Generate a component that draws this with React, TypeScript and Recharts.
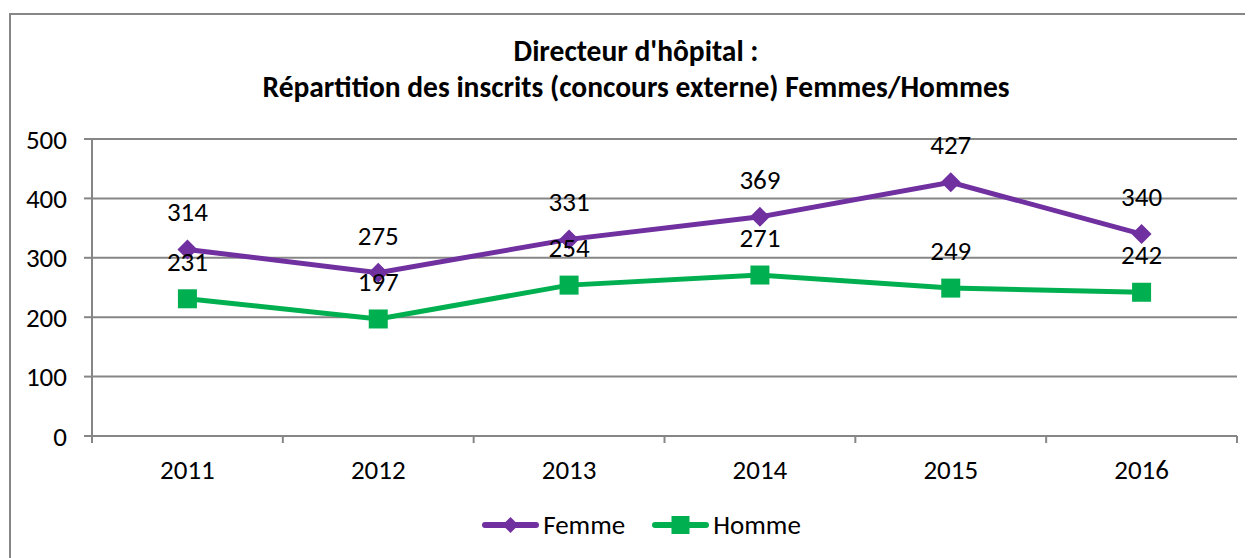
import { LineChart, Line, XAxis, YAxis, CartesianGrid, Legend, LabelList } from 'recharts';

const years = ['2011', '2012', '2013', '2014', '2015', '2016'];
const femme = [314, 275, 331, 369, 427, 340];
const homme = [231, 197, 254, 271, 249, 242];
const yTicks = [0, 100, 200, 300, 400, 500];

const data = years.map((year, i) => ({ year, femme: femme[i], homme: homme[i] }));

const FONT = 'Carlito, Calibri, Lato, sans-serif';
const AXIS = '#868686';
const PURPLE = '#7030A0';
const GREEN = '#00B050';

const W = 1245;
const H = 550;
const M = { top: 131, right: 16, left: 0, bottom: 13 };
const Y_W = 84;
const HALF_BAND = (W - M.left - M.right - Y_W) / years.length / 2;
const FS = 27;

// category axis: tick marks on band edges, label in the middle
const YearTick = ({ x, y, payload, index }: any) => (
  <g>
    <line x1={x - HALF_BAND} x2={x - HALF_BAND} y1={y} y2={y + 7} stroke={AXIS} strokeWidth={2} />
    {index === years.length - 1 && (
      <line x1={x + HALF_BAND} x2={x + HALF_BAND} y1={y} y2={y + 7} stroke={AXIS} strokeWidth={2} />
    )}
    <text x={x} y={y + 43} textAnchor="middle" fill="#000" fontSize={FS} fontFamily={FONT}>
      {payload.value}
    </text>
  </g>
);

const Diamond = ({ cx, cy }: any) => (
  <path d={`M${cx},${cy - 10} L${cx + 10},${cy} L${cx},${cy + 10} L${cx - 10},${cy} Z`} fill={PURPLE} />
);

const Square = ({ cx, cy }: any) => (
  <rect x={cx - 9.5} y={cy - 9.5} width={19} height={19} fill={GREEN} />
);

const LegendContent = () => (
  <div style={{ display: 'flex', justifyContent: 'center', alignItems: 'center', gap: 27, fontFamily: FONT, fontSize: FS, paddingLeft: 38, paddingTop: 3 }}>
    {[
      { name: 'Femme', color: PURPLE, shape: 'diamond' },
      { name: 'Homme', color: GREEN, shape: 'square' },
    ].map((item) => (
      <div key={item.name} style={{ display: 'flex', alignItems: 'center', gap: 4 }}>
        <svg width={57} height={20}>
          <line x1={3} x2={54} y1={10} y2={10} stroke={item.color} strokeWidth={6} strokeLinecap="round" />
          {item.shape === 'diamond' ? (
            <path d="M28.5,2 L36.5,10 L28.5,18 L20.5,10 Z" fill={item.color} />
          ) : (
            <rect x={19.5} y={1} width={18} height={18} fill={item.color} />
          )}
        </svg>
        <span>{item.name}</span>
      </div>
    ))}
  </div>
);

export default function App() {
  return (
    <div style={{ width: W, height: H, overflow: 'hidden', position: 'relative', background: '#fff' }}>
      <div
        style={{
          position: 'absolute', left: 1, top: 5, width: 1300, height: 700,
          border: `2px solid ${AXIS}`, boxSizing: 'border-box',
        }}
      />
      <div
        style={{
          position: 'absolute', left: 0, top: 25, width: 1256, textAlign: 'center',
          fontFamily: FONT, fontWeight: 'bold', fontSize: 29.5, lineHeight: '36px',
        }}
      >
        Directeur d'hôpital :<br />
        Répartition des inscrits (concours externe) Femmes/Hommes
      </div>
      <LineChart width={W} height={H} data={data} margin={M} style={{ position: 'absolute', left: 0, top: 0 }}>
        <CartesianGrid horizontal vertical={false} stroke={AXIS} strokeWidth={2} />
        <XAxis
          dataKey="year"
          scale="band"
          height={69}
          axisLine={{ stroke: AXIS, strokeWidth: 2 }}
          tickLine={false}
          tickSize={0}
          tickMargin={0}
          tick={<YearTick />}
          interval={0}
        />
        <YAxis
          width={Y_W}
          domain={[0, 500]}
          ticks={yTicks}
          axisLine={{ stroke: AXIS, strokeWidth: 2 }}
          tickLine={{ stroke: AXIS, strokeWidth: 2 }}
          tickSize={8}
          tickMargin={17}
          tick={{ fill: '#000', fontSize: FS, fontFamily: FONT }}
        />
        <Legend verticalAlign="bottom" height={40} content={<LegendContent />} />
        <Line
          dataKey="femme"
          name="Femme"
          stroke={PURPLE}
          strokeWidth={5}
          dot={<Diamond />}
          activeDot={false}
          isAnimationActive={false}
        >
          <LabelList dataKey="femme" position="top" offset={28} fill="#000" fontSize={FS} fontFamily={FONT} />
        </Line>
        <Line
          dataKey="homme"
          name="Homme"
          stroke={GREEN}
          strokeWidth={5}
          dot={<Square />}
          activeDot={false}
          isAnimationActive={false}
        >
          <LabelList dataKey="homme" position="top" offset={28} fill="#000" fontSize={FS} fontFamily={FONT} />
        </Line>
      </LineChart>
    </div>
  );
}
